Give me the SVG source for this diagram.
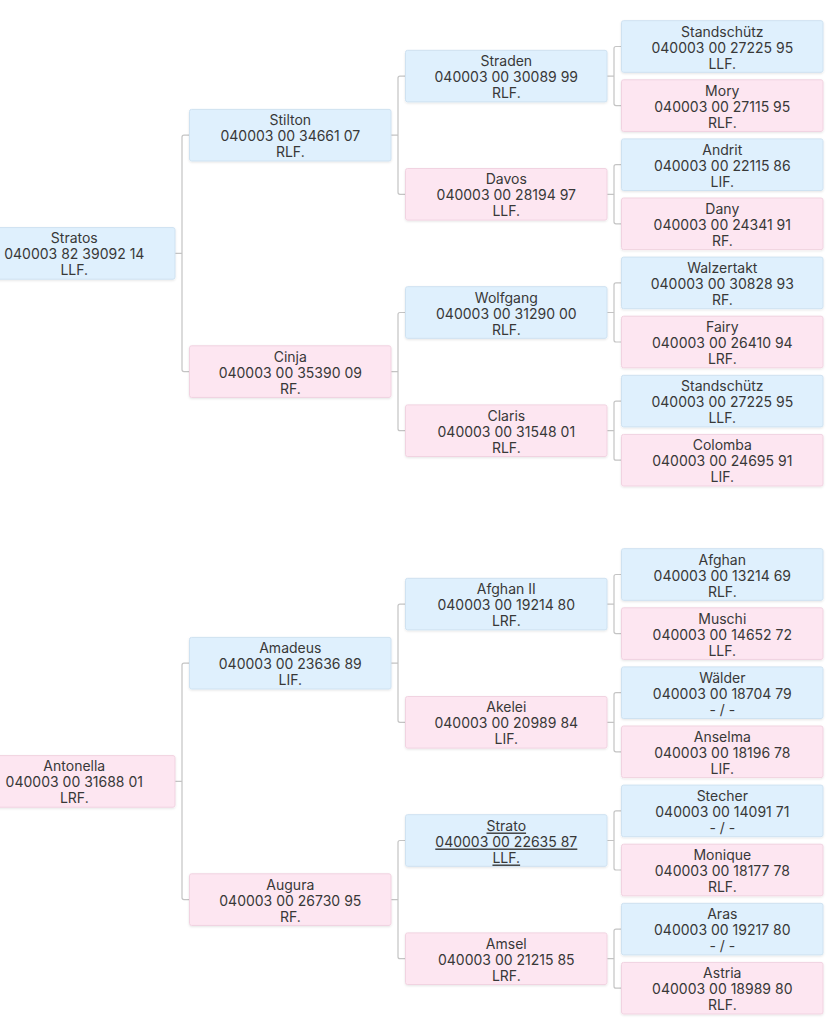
<svg xmlns="http://www.w3.org/2000/svg" width="831" height="1024" viewBox="0 0 831 1024">
<defs>
<filter id="sh" x="-5%" y="-10%" width="110%" height="130%">
<feDropShadow dx="0" dy="1" stdDeviation="1" flood-color="#000" flood-opacity="0.10"/>
</filter>
</defs>
<style>
.node rect{stroke-width:1;filter:url(#sh)}
.b rect{fill:#dff0fd;stroke:#cfe2f1}
.p rect{fill:#fde6f1;stroke:#f1d3e1}
.node text{font-family:Inter,"Noto Sans","Liberation Sans",sans-serif;font-size:14px;fill:#383838;text-anchor:middle;dominant-baseline:central}
.u text{text-decoration:underline}
.conn path{fill:none;stroke:#c4c4c4;stroke-width:1.2}
</style>
<rect width="831" height="1024" fill="#ffffff"/>
<g id="connectors" class="conn">
<path d="M175 253.4H182M189.5 135.2H184Q182 135.2 182 137.2V369.6Q182 371.6 184 371.6H189.5"/>
<path d="M391 135.2H398M405.5 76.1H400Q398 76.1 398 78.1V192.3Q398 194.3 400 194.3H405.5"/>
<path d="M391 371.6H398M405.5 312.5H400Q398 312.5 398 314.5V428.7Q398 430.7 400 430.7H405.5"/>
<path d="M607 76.1H614M621.5 46.5H616Q614 46.5 614 48.5V103.6Q614 105.6 616 105.6H621.5"/>
<path d="M607 194.3H614M621.5 164.7H616Q614 164.7 614 166.7V221.8Q614 223.8 616 223.8H621.5"/>
<path d="M607 312.5H614M621.5 282.9H616Q614 282.9 614 284.9V340Q614 342 616 342H621.5"/>
<path d="M607 430.7H614M621.5 401.1H616Q614 401.1 614 403.1V458.2Q614 460.2 616 460.2H621.5"/>
<path d="M175 781.4H182M189.5 663.2H184Q182 663.2 182 665.2V897.6Q182 899.6 184 899.6H189.5"/>
<path d="M391 663.2H398M405.5 604.1H400Q398 604.1 398 606.1V720.3Q398 722.3 400 722.3H405.5"/>
<path d="M391 899.6H398M405.5 840.5H400Q398 840.5 398 842.5V956.7Q398 958.7 400 958.7H405.5"/>
<path d="M607 604.1H614M621.5 574.5H616Q614 574.5 614 576.5V631.6Q614 633.6 616 633.6H621.5"/>
<path d="M607 722.3H614M621.5 692.7H616Q614 692.7 614 694.7V749.8Q614 751.8 616 751.8H621.5"/>
<path d="M607 840.5H614M621.5 810.9H616Q614 810.9 614 812.9V868Q614 870 616 870H621.5"/>
<path d="M607 958.7H614M621.5 929.1H616Q614 929.1 614 931.1V986.2Q614 988.2 616 988.2H621.5"/>
</g>

<g id="n-stratos" class="node b"><rect x="-26.5" y="227.6" width="201.5" height="51.6" rx="2"/><text><tspan x="74.3" y="237.4">Stratos</tspan><tspan x="74.3" y="253.4">040003 82 39092 14</tspan><tspan x="74.3" y="269.4">LLF.</tspan></text></g>
<g id="n-stilton" class="node b"><rect x="189.5" y="109.4" width="201.5" height="51.6" rx="2"/><text><tspan x="290.3" y="119.2">Stilton</tspan><tspan x="290.3" y="135.2">040003 00 34661 07</tspan><tspan x="290.3" y="151.2">RLF.</tspan></text></g>
<g id="n-cinja" class="node p"><rect x="189.5" y="345.8" width="201.5" height="51.6" rx="2"/><text><tspan x="290.3" y="355.6">Cinja</tspan><tspan x="290.3" y="371.6">040003 00 35390 09</tspan><tspan x="290.3" y="387.6">RF.</tspan></text></g>
<g id="n-straden" class="node b"><rect x="405.5" y="50.3" width="201.5" height="51.6" rx="2"/><text><tspan x="506.3" y="60.1">Straden</tspan><tspan x="506.3" y="76.1">040003 00 30089 99</tspan><tspan x="506.3" y="92.1">RLF.</tspan></text></g>
<g id="n-davos" class="node p"><rect x="405.5" y="168.5" width="201.5" height="51.6" rx="2"/><text><tspan x="506.3" y="178.3">Davos</tspan><tspan x="506.3" y="194.3">040003 00 28194 97</tspan><tspan x="506.3" y="210.3">LLF.</tspan></text></g>
<g id="n-wolfgang" class="node b"><rect x="405.5" y="286.7" width="201.5" height="51.6" rx="2"/><text><tspan x="506.3" y="296.5">Wolfgang</tspan><tspan x="506.3" y="312.5">040003 00 31290 00</tspan><tspan x="506.3" y="328.5">RLF.</tspan></text></g>
<g id="n-claris" class="node p"><rect x="405.5" y="404.9" width="201.5" height="51.6" rx="2"/><text><tspan x="506.3" y="414.7">Claris</tspan><tspan x="506.3" y="430.7">040003 00 31548 01</tspan><tspan x="506.3" y="446.7">RLF.</tspan></text></g>
<g id="n-standschuetz1" class="node b"><rect x="621.5" y="20.7" width="201.5" height="51.6" rx="2"/><text><tspan x="722.3" y="30.5">Standschütz</tspan><tspan x="722.3" y="46.5">040003 00 27225 95</tspan><tspan x="722.3" y="62.5">LLF.</tspan></text></g>
<g id="n-mory" class="node p"><rect x="621.5" y="79.8" width="201.5" height="51.6" rx="2"/><text><tspan x="722.3" y="89.6">Mory</tspan><tspan x="722.3" y="105.6">040003 00 27115 95</tspan><tspan x="722.3" y="121.6">RLF.</tspan></text></g>
<g id="n-andrit" class="node b"><rect x="621.5" y="138.9" width="201.5" height="51.6" rx="2"/><text><tspan x="722.3" y="148.7">Andrit</tspan><tspan x="722.3" y="164.7">040003 00 22115 86</tspan><tspan x="722.3" y="180.7">LIF.</tspan></text></g>
<g id="n-dany" class="node p"><rect x="621.5" y="198" width="201.5" height="51.6" rx="2"/><text><tspan x="722.3" y="207.8">Dany</tspan><tspan x="722.3" y="223.8">040003 00 24341 91</tspan><tspan x="722.3" y="239.8">RF.</tspan></text></g>
<g id="n-walzertakt" class="node b"><rect x="621.5" y="257.1" width="201.5" height="51.6" rx="2"/><text><tspan x="722.3" y="266.9">Walzertakt</tspan><tspan x="722.3" y="282.9">040003 00 30828 93</tspan><tspan x="722.3" y="298.9">RF.</tspan></text></g>
<g id="n-fairy" class="node p"><rect x="621.5" y="316.2" width="201.5" height="51.6" rx="2"/><text><tspan x="722.3" y="326">Fairy</tspan><tspan x="722.3" y="342">040003 00 26410 94</tspan><tspan x="722.3" y="358">LRF.</tspan></text></g>
<g id="n-standschuetz2" class="node b"><rect x="621.5" y="375.3" width="201.5" height="51.6" rx="2"/><text><tspan x="722.3" y="385.1">Standschütz</tspan><tspan x="722.3" y="401.1">040003 00 27225 95</tspan><tspan x="722.3" y="417.1">LLF.</tspan></text></g>
<g id="n-colomba" class="node p"><rect x="621.5" y="434.4" width="201.5" height="51.6" rx="2"/><text><tspan x="722.3" y="444.2">Colomba</tspan><tspan x="722.3" y="460.2">040003 00 24695 91</tspan><tspan x="722.3" y="476.2">LIF.</tspan></text></g>

<g id="n-antonella" class="node p"><rect x="-26.5" y="755.6" width="201.5" height="51.6" rx="2"/><text><tspan x="74.3" y="765.4">Antonella</tspan><tspan x="74.3" y="781.4">040003 00 31688 01</tspan><tspan x="74.3" y="797.4">LRF.</tspan></text></g>
<g id="n-amadeus" class="node b"><rect x="189.5" y="637.4" width="201.5" height="51.6" rx="2"/><text><tspan x="290.3" y="647.2">Amadeus</tspan><tspan x="290.3" y="663.2">040003 00 23636 89</tspan><tspan x="290.3" y="679.2">LIF.</tspan></text></g>
<g id="n-augura" class="node p"><rect x="189.5" y="873.8" width="201.5" height="51.6" rx="2"/><text><tspan x="290.3" y="883.6">Augura</tspan><tspan x="290.3" y="899.6">040003 00 26730 95</tspan><tspan x="290.3" y="915.6">RF.</tspan></text></g>
<g id="n-afghan2" class="node b"><rect x="405.5" y="578.3" width="201.5" height="51.6" rx="2"/><text><tspan x="506.3" y="588.1">Afghan II</tspan><tspan x="506.3" y="604.1">040003 00 19214 80</tspan><tspan x="506.3" y="620.1">LRF.</tspan></text></g>
<g id="n-akelei" class="node p"><rect x="405.5" y="696.5" width="201.5" height="51.6" rx="2"/><text><tspan x="506.3" y="706.3">Akelei</tspan><tspan x="506.3" y="722.3">040003 00 20989 84</tspan><tspan x="506.3" y="738.3">LIF.</tspan></text></g>
<g id="n-strato" class="node b u"><rect x="405.5" y="814.7" width="201.5" height="51.6" rx="2"/><text><tspan x="506.3" y="824.5">Strato</tspan><tspan x="506.3" y="840.5">040003 00 22635 87</tspan><tspan x="506.3" y="856.5">LLF.</tspan></text></g>
<g id="n-amsel" class="node p"><rect x="405.5" y="932.9" width="201.5" height="51.6" rx="2"/><text><tspan x="506.3" y="942.7">Amsel</tspan><tspan x="506.3" y="958.7">040003 00 21215 85</tspan><tspan x="506.3" y="974.7">LRF.</tspan></text></g>
<g id="n-afghan" class="node b"><rect x="621.5" y="548.7" width="201.5" height="51.6" rx="2"/><text><tspan x="722.3" y="558.5">Afghan</tspan><tspan x="722.3" y="574.5">040003 00 13214 69</tspan><tspan x="722.3" y="590.5">RLF.</tspan></text></g>
<g id="n-muschi" class="node p"><rect x="621.5" y="607.8" width="201.5" height="51.6" rx="2"/><text><tspan x="722.3" y="617.6">Muschi</tspan><tspan x="722.3" y="633.6">040003 00 14652 72</tspan><tspan x="722.3" y="649.6">LLF.</tspan></text></g>
<g id="n-waelder" class="node b"><rect x="621.5" y="666.9" width="201.5" height="51.6" rx="2"/><text><tspan x="722.3" y="676.7">Wälder</tspan><tspan x="722.3" y="692.7">040003 00 18704 79</tspan><tspan x="722.3" y="708.7">- / -</tspan></text></g>
<g id="n-anselma" class="node p"><rect x="621.5" y="726" width="201.5" height="51.6" rx="2"/><text><tspan x="722.3" y="735.8">Anselma</tspan><tspan x="722.3" y="751.8">040003 00 18196 78</tspan><tspan x="722.3" y="767.8">LIF.</tspan></text></g>
<g id="n-stecher" class="node b"><rect x="621.5" y="785.1" width="201.5" height="51.6" rx="2"/><text><tspan x="722.3" y="794.9">Stecher</tspan><tspan x="722.3" y="810.9">040003 00 14091 71</tspan><tspan x="722.3" y="826.9">- / -</tspan></text></g>
<g id="n-monique" class="node p"><rect x="621.5" y="844.2" width="201.5" height="51.6" rx="2"/><text><tspan x="722.3" y="854">Monique</tspan><tspan x="722.3" y="870">040003 00 18177 78</tspan><tspan x="722.3" y="886">RLF.</tspan></text></g>
<g id="n-aras" class="node b"><rect x="621.5" y="903.3" width="201.5" height="51.6" rx="2"/><text><tspan x="722.3" y="913.1">Aras</tspan><tspan x="722.3" y="929.1">040003 00 19217 80</tspan><tspan x="722.3" y="945.1">- / -</tspan></text></g>
<g id="n-astria" class="node p"><rect x="621.5" y="962.4" width="201.5" height="51.6" rx="2"/><text><tspan x="722.3" y="972.2">Astria</tspan><tspan x="722.3" y="988.2">040003 00 18989 80</tspan><tspan x="722.3" y="1004.2">RLF.</tspan></text></g>
</svg>
